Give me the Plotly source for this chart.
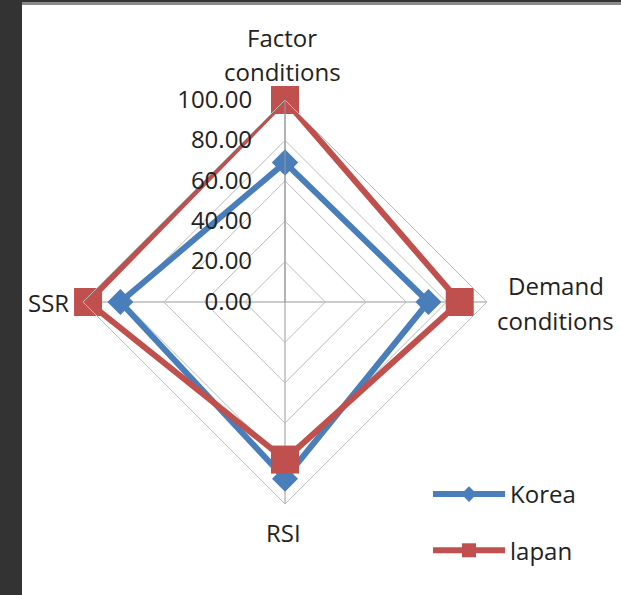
import plotly.graph_objects as go

categories = ["Factor conditions", "Demand conditions", "RSI", "SSR"]
korea = [69.0, 71.0, 87.5, 81.5]
japan = [100.0, 86.5, 78.0, 97.5]
radial_ticks = [0, 20, 40, 60, 80, 100]

W, H = 621, 595
cx, cy, R = 285, 302, 202

FONT = "Open Sans"
TXT = "#222222"
BLUE = "#4A7EBB"
RED = "#C0504D"

fig = go.Figure()
fig.add_trace(go.Scatterpolar(
    r=korea + korea[:1], theta=categories + categories[:1], name="Korea",
    mode="lines+markers", showlegend=False,
    line=dict(color=BLUE, width=6),
    marker=dict(symbol="diamond", size=20, color=BLUE),
))
fig.add_trace(go.Scatterpolar(
    r=japan + japan[:1], theta=categories + categories[:1], name="lapan",
    mode="lines+markers", showlegend=False,
    line=dict(color=RED, width=6),
    marker=dict(symbol="square", size=28, color=RED),
))
# legend entries (smaller markers as in the reference legend)
fig.add_trace(go.Scatterpolar(
    r=[None], theta=categories[:1], name="Korea", mode="lines+markers", legendgroup="k",
    showlegend=True,
    line=dict(color=BLUE, width=6), marker=dict(symbol="diamond", size=12, color=BLUE),
))
fig.add_trace(go.Scatterpolar(
    r=[None], theta=categories[:1], name="lapan", mode="lines+markers", legendgroup="j",
    showlegend=True,
    line=dict(color=RED, width=6), marker=dict(symbol="square", size=14, color=RED),
))

fig.update_layout(
    width=W, height=H,
    margin=dict(l=0, r=0, t=0, b=0),
    paper_bgcolor="#333333",
    font=dict(family=FONT, size=24, color=TXT),
    polar=dict(
        domain=dict(x=[(cx - R) / W, (cx + R) / W], y=[(H - cy - R) / H, (H - cy + R) / H]),
        bgcolor="white",
        gridshape="linear",
        radialaxis=dict(
            range=[0, 100], tickvals=radial_ticks, tickformat=".2f",
            angle=90, side="counterclockwise", tickangle=90,
            ticks="outside", ticklen=24, tickcolor="rgba(0,0,0,0)",
            showline=True, linecolor="#999999", linewidth=1,
            gridcolor="#BBBBBB", gridwidth=1,
            tickfont=dict(size=24, color=TXT),
        ),
        angularaxis=dict(
            type="category", categoryarray=categories,
            rotation=90, direction="clockwise",
            showticklabels=False, ticks="",
            showline=True, linecolor="#BBBBBB", linewidth=1,
            gridcolor="#999999", gridwidth=1,
        ),
    ),
    showlegend=True,
    legend=dict(
        x=428 / W, y=(H - 472) / H, xanchor="left", yanchor="top",
        bgcolor="rgba(0,0,0,0)", itemwidth=72, tracegroupgap=22,
        font=dict(size=24, color=TXT),
    ),
    shapes=[
        dict(type="rect", xref="paper", yref="paper", layer="below",
             x0=22 / W, x1=1, y0=0, y1=(H - 5) / H, fillcolor="white", line=dict(width=0)),
        dict(type="rect", xref="paper", yref="paper", layer="below",
             x0=22 / W, x1=1, y0=(H - 5) / H, y1=(H - 2) / H, fillcolor="#8A8A8A", line=dict(width=0)),
    ],
)

labels = [
    ("Factor", 282, 37), ("conditions", 282, 71),
    ("Demand", 556, 285), ("conditions", 555, 320),
    ("SSR", 48, 302), ("RSI", 283, 532),
]
for t, x, y in labels:
    fig.add_annotation(text=t, x=x / W, y=(H - y) / H, xref="paper", yref="paper",
                       showarrow=False, xanchor="center", yanchor="middle",
                       font=dict(size=24, color=TXT, family=FONT))

fig.write_html("out.html")
